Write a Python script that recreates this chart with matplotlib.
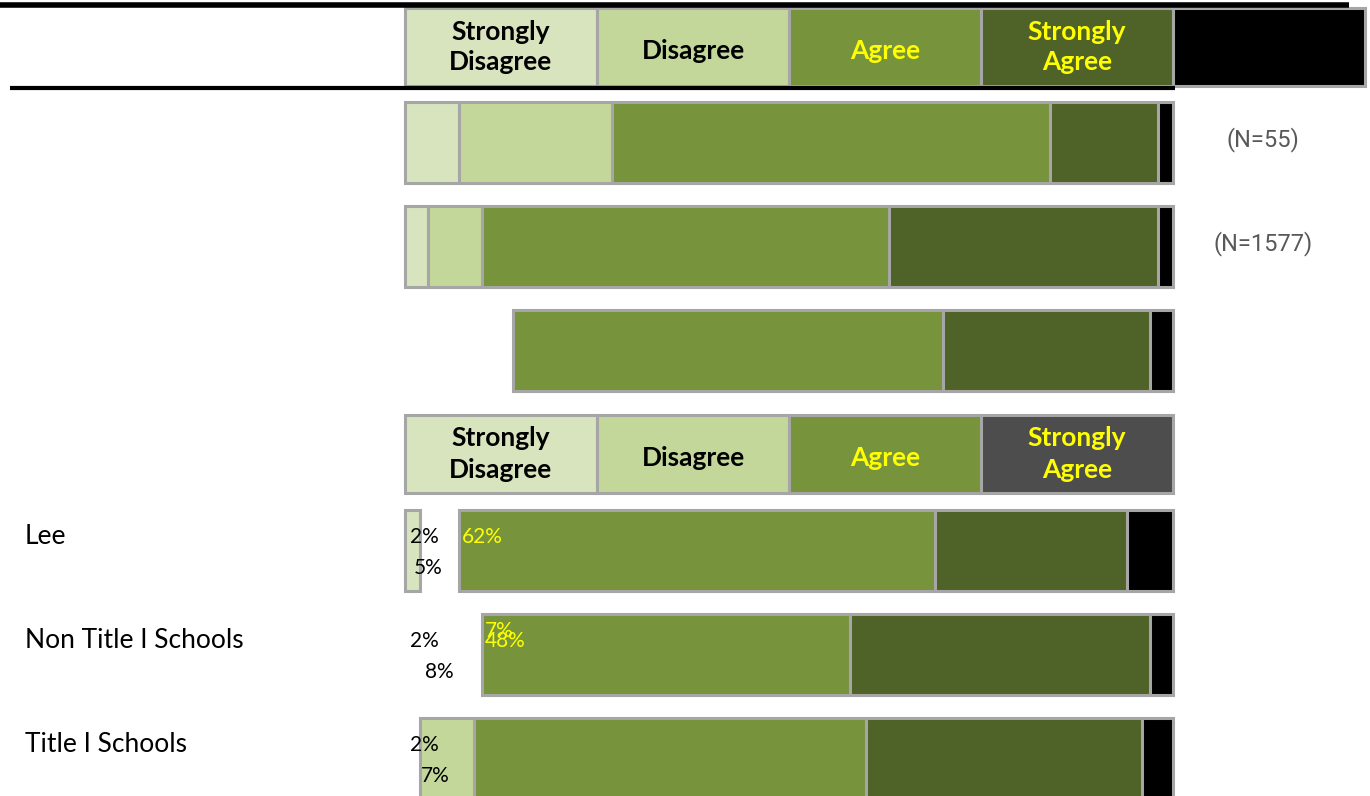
import matplotlib
matplotlib.use("Agg")
import matplotlib.pyplot as plt
from matplotlib import font_manager
from matplotlib.transforms import blended_transform_factory

# response categories and their colours
categories = ["Strongly\nDisagree", "Disagree", "Agree", "Strongly\nAgree"]
seg_colors = ["#D7E4BD", "#C4D79B", "#77933C", "#4F6228", "#000000"]

# upper block (no row names), percentages SD, D, A, SA, other
top_rows = [
    [7, 20, 57, 14, 2],
    [3, 7, 53, 35, 2],
    [3, 11, 56, 27, 3],
]
top_visible = [
    [True, True, True, True, True],
    [True, True, True, True, True],
    [False, False, True, True, True],
]
top_n = ["(N=55)", "(N=1577)", ""]

# lower block
groups = ["Lee", "Non Title I Schools", "Title I Schools"]
low_rows = [
    [2, 5, 62, 25, 6],
    [2, 8, 48, 39, 3],
    [2, 7, 51, 36, 4],
]
low_visible = [
    [True, False, True, True, True],
    [False, False, True, True, True],
    [False, True, True, True, True],
]
# labels that are shown (segment index, text, colour)
low_labels = [
    [(0, "2%", "black"), (1, "5%", "black"), (2, "62%", "#FFFF00")],
    [(0, "2%", "black"), (1, "8%", "black"), (2, "7%", "#FFFF00"), (2, "48%", "#FFFF00")],
    [(0, "2%", "black"), (1, "7%", "black")],
]

installed = {f.name for f in font_manager.fontManager.ttflist}
head_font = "Lato" if "Lato" in installed else "DejaVu Sans"
body_font = "Lato" if "Lato" in installed else "DejaVu Sans"

W, H = 1370, 796
fig = plt.figure(figsize=(W / 100, H / 100), dpi=100)
ax = fig.add_axes([0, 0, 1, 1])
# x in percent of bar length, y in pixel rows
x0_px, px_per_pct = 405, 7.68
ax.set_xlim(-x0_px / px_per_pct, (W - x0_px) / px_per_pct)
ax.set_ylim(H, 0)
ax.set_axis_off()

edge = "#A6A6A6"
bar_h = 81
step = 104
blend = blended_transform_factory(fig.transFigure, ax.transData)


def draw_row(y, values, visible):
    left = 0
    for i, v in enumerate(values):
        if visible[i]:
            ax.barh(y, v, left=left, height=bar_h, color=seg_colors[i],
                    edgecolor=edge, linewidth=2.2)
        left += v


def draw_header(y, sa_color, with_black):
    widths = [25] * (5 if with_black else 4)
    cols = seg_colors[:3] + [sa_color] + ["#000000"]
    for i, w in enumerate(widths):
        ax.barh(y, w, left=25 * i, height=78, color=cols[i],
                edgecolor=edge, linewidth=2.2)
        if i < 4:
            two_lines = "\n" in categories[i]
            ax.text(25 * i + 12.5, y + (0 if two_lines else 4), categories[i],
                    ha="center", va="center", fontsize=19, fontweight="bold",
                    family=head_font, color="black" if i < 2 else "#FFFF00",
                    linespacing=1.35)


# top header with rules
draw_header(47, seg_colors[3], True)
ax.plot([0, 1349 / W], [5, 5], color="black", lw=4, transform=blend,
        solid_capstyle="butt", zorder=5)
ax.plot([10 / W, 1175 / W], [87.5, 87.5], color="black", lw=3, transform=blend,
        solid_capstyle="butt", zorder=5)

for r, (vals, vis) in enumerate(zip(top_rows, top_visible)):
    y = 142 + step * r
    draw_row(y, vals, vis)
    if top_n[r]:
        ax.text(1263 / W, y - 2, top_n[r], transform=blend, ha="center", va="center",
                fontsize=17, color="#595959", family="Roboto")

# second header
draw_header(454, "#4D4D4D", False)

for r, (vals, vis) in enumerate(zip(low_rows, low_visible)):
    y = 550 + step * r
    draw_row(y, vals, vis)
    ax.text(25 / W, y - 14, groups[r], transform=blend, ha="left", va="center",
            fontsize=19, color="black", family=body_font)
    starts = [sum(vals[:i]) for i in range(len(vals))]
    for seg, txt, col in low_labels[r]:
        if seg == 2:
            dy = -13 if txt != "7%" else -23
            ax.text(starts[seg] + 0.4, y + dy, txt, ha="left", va="center",
                    fontsize=15, color=col, family=body_font)
        else:
            x = starts[seg] + vals[seg] / 2 + (1.5 if seg == 0 else -1.5)
            dy = -13 if seg == 0 else 18
            ax.text(x, y + dy, txt, ha="center", va="center",
                    fontsize=15, color=col, family=body_font)

fig.savefig("out.png", dpi=100)
